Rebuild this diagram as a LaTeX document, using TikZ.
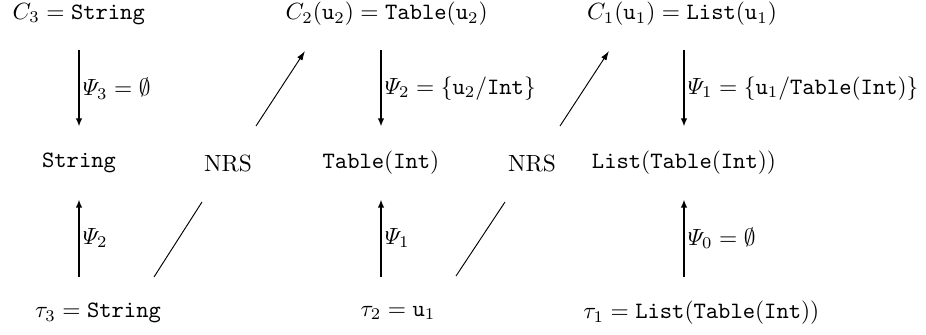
\documentclass[tikz,border=0pt]{standalone}
\usepackage{amsmath}
\usepackage{amssymb}
\usepackage{tikz}
\usetikzlibrary{
    positioning,
    arrows.meta,
    calc,
}

\begin{document}
\begin{tikzpicture}[
    term/.style={minimum height=1.08cm, inner sep=0pt},
    arrow/.style={-{Latex[length=3.5pt, width=2.8pt]}, line width=1.2pt},
    link/.style={-{Latex[length=4pt, width=2.6pt]}},
    psi/.style={right, inner sep=1pt},
]
    \useasboundingbox (0, 0) rectangle (13.89, -5.025);

    % Top row
    \node[term] (top3) at (1.18, -0.21) {$C_3 = \mathtt{String}$};
    \node[term] (top2) at (5.80, -0.21) {$C_2(\mathtt{u}_2) = \mathtt{Table}(\mathtt{u}_2)$};
    \node[term] (top1) at (10.23, -0.21) {$C_1(\mathtt{u}_1) = \mathtt{List}(\mathtt{u}_1)$};

    % Middle row
    \node[term] (mid3) at (1.185, -2.445) {\texttt{String}};
    \node[term] (nrs1) at (3.42, -2.445) {NRS};
    \node[term] (mid2) at (5.715, -2.445) {$\mathtt{Table}(\mathtt{Int})$};
    \node[term] (nrs2) at (7.98, -2.445) {NRS};
    \node[term] (mid1) at (10.26, -2.445) {$\mathtt{List}(\mathtt{Table}(\mathtt{Int}))$};

    % Bottom row
    \node[term] (bot3) at (1.47, -4.695) {$\tau_3 = \mathtt{String}$};
    \node[term] (bot2) at (5.97, -4.695) {$\tau_2 = \mathtt{u}_1$};
    \node[term] (bot1) at (10.52, -4.695) {$\tau_1 = \mathtt{List}(\mathtt{Table}(\mathtt{Int}))$};

    % Substitutions
    \foreach \i/\lab in {3/{\varPsi_3 = \emptyset},
                         2/{\varPsi_2 = \{\mathtt{u}_2/\mathtt{Int}\}},
                         1/{\varPsi_1 = \{\mathtt{u}_1/\mathtt{Table}(\mathtt{Int})\}}} {
        \draw[arrow] (mid\i |- top\i.south) -- (mid\i.north) node[midway, psi] {$\lab$};
    }
    \foreach \i/\lab in {3/{\varPsi_2}, 2/{\varPsi_1}, 1/{\varPsi_0 = \emptyset}} {
        \draw[arrow] (mid\i |- bot\i.north) -- (mid\i.south) node[midway, psi] {$\lab$};
    }

    % Diagonal steps
    \coordinate (up1a) at (3.84, -1.89);
    \coordinate (up1b) at (4.575, -0.765);
    \coordinate (up2a) at (8.40, -1.89);
    \coordinate (up2b) at (9.135, -0.765);
    \coordinate (lo1a) at (2.31, -4.155);
    \coordinate (lo1b) at (3.03, -3.03);
    \coordinate (lo2a) at (6.84, -4.14);
    \coordinate (lo2b) at (7.575, -3.03);
    \draw[link] (up1a) -- (up1b);
    \draw[link] (up2a) -- (up2b);
    \draw (lo1a) -- (lo1b);
    \draw (lo2a) -- (lo2b);
\end{tikzpicture}
\end{document}
